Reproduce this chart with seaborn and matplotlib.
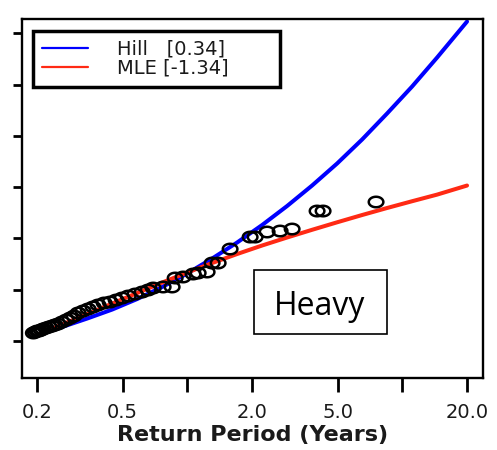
import numpy as np
import seaborn as sns
import matplotlib.pyplot as plt
from matplotlib.path import Path
from matplotlib.patches import Rectangle

# Observed return periods (years) and the matching return levels
period_obs = [0.192, 0.196, 0.200, 0.204, 0.209, 0.213, 0.220, 0.227, 0.235, 0.242,
              0.250, 0.261, 0.273, 0.285, 0.297, 0.310, 0.327, 0.345, 0.364, 0.384,
              0.410, 0.437, 0.466, 0.497, 0.530, 0.571, 0.616, 0.657, 0.693, 0.771,
              0.849, 0.877, 0.955, 1.063, 1.122, 1.235, 1.303, 1.390, 1.580, 1.958,
              2.066, 2.349, 2.700, 3.070, 4.012, 4.278, 7.546]
level_obs = [11.56, 11.75, 11.95, 11.95, 12.14, 12.34, 12.53, 12.73, 12.92, 13.12,
             13.31, 13.70, 14.09, 14.48, 14.87, 15.46, 15.85, 16.24, 16.63, 17.02,
             17.41, 17.60, 17.99, 18.38, 18.77, 19.16, 19.55, 19.94, 20.33, 20.53,
             20.53, 22.28, 22.48, 23.06, 23.26, 23.45, 25.20, 25.20, 27.93, 30.27,
             30.27, 31.25, 31.44, 31.83, 35.34, 35.34, 37.10]

# Fitted return-level curves
period_fit = [0.200, 0.261, 0.342, 0.447, 0.584, 0.763, 0.997, 1.303, 1.703,
              2.226, 2.910, 3.802, 4.970, 6.496, 8.490, 11.10, 14.51, 20.0]
level_hill = [11.17, 12.73, 14.39, 16.14, 18.19, 20.53, 23.16, 26.08, 29.20,
              32.61, 36.32, 40.31, 44.60, 49.28, 54.35, 59.61, 65.26, 72.28]
level_mle = [11.17, 13.22, 15.26, 17.31, 19.36, 21.40, 23.35, 25.20, 26.96,
             28.62, 30.18, 31.68, 33.14, 34.56, 35.93, 37.25, 38.54, 40.31]

hill_label = "Hill   [0.34]"
mle_label = "MLE [-1.34]"
note_text = "Heavy"
x_title = "Return Period (Years)"

xticks = [0.2, 0.5, 1, 2, 5, 10, 20]
xtick_labels = ["0.2", "0.5", "", "2.0", "5.0", "", "20.0"]
yticks = [10, 20, 30, 40, 50, 60, 70]

sns.set_style("ticks")
plt.rcParams["font.family"] = ["DejaVu Sans"]

fig = plt.figure(figsize=(4.97, 4.5), dpi=100)
ax = fig.add_axes([0.0443, 0.16, 0.9276, 0.7984])

sns.lineplot(x=period_fit, y=level_hill, color="#0000ff", linewidth=2.9,
             label=hill_label, ax=ax, sort=False, estimator=None, zorder=2)
sns.lineplot(x=period_fit, y=level_mle, color="#ff2a14", linewidth=2.9,
             label=mle_label, ax=ax, sort=False, estimator=None, zorder=2)

# hollow, slightly wide ellipse marker for the observations
t = np.linspace(0, 2 * np.pi, 80)
ellipse = Path(np.column_stack([np.cos(t), 0.72 * np.sin(t)]), closed=True)
sns.scatterplot(x=period_obs, y=level_obs, marker=ellipse, s=110,
                facecolor="none", edgecolor="black", linewidth=1.8,
                ax=ax, zorder=3)

ax.set_xscale("log")
ax.set_xlim(0.170, 23.74)
ax.set_ylim(2.79, 72.83)
ax.set_xticks(xticks)
ax.set_xticklabels(xtick_labels)
ax.xaxis.set_minor_locator(plt.NullLocator())
ax.set_yticks(yticks)
ax.set_yticklabels([])

for side in ["left", "right", "top", "bottom"]:
    ax.spines[side].set_visible(True)
    ax.spines[side].set_color("black")
    ax.spines[side].set_linewidth(1.7)

ax.tick_params(axis="x", length=10, width=2.0, pad=8, labelsize=14,
               labelcolor="#1a1a1a", color="black")
ax.tick_params(axis="y", length=6.5, width=2.0, color="black")

ax.set_xlabel(x_title, fontsize=16, fontweight="bold", color="#1a1a1a")
ax.xaxis.label.set_va("center")
ax.xaxis.set_label_coords(0.5, -0.160)
ax.set_ylabel("")

leg = ax.legend(loc="upper left", bbox_to_anchor=(0.0239, 0.9658, 0.5358, 0),
                mode="expand", borderaxespad=0, fontsize=14, frameon=True,
                fancybox=False, handlelength=2.37, handletextpad=1.5,
                borderpad=0.45, labelspacing=0.0)
frame = leg.get_frame()
frame.set_edgecolor("black")
frame.set_linewidth(2.5)
frame.set_alpha(1)
for line in leg.get_lines():
    line.set_linewidth(1.6)
for txt in leg.get_texts():
    txt.set_color("#1a1a1a")

# annotation box in the lower right
ax.add_patch(Rectangle((0.503, 0.1225), 0.289, 0.1781, transform=ax.transAxes,
                       fill=False, edgecolor="black", linewidth=1.2, zorder=4))
ax.text(0.6464, 0.1753, note_text, transform=ax.transAxes, ha="center",
        va="baseline", fontsize=23, family=["Open Sans", "DejaVu Sans"],
        color="black", zorder=5)

fig.savefig("out.png", dpi=100)
